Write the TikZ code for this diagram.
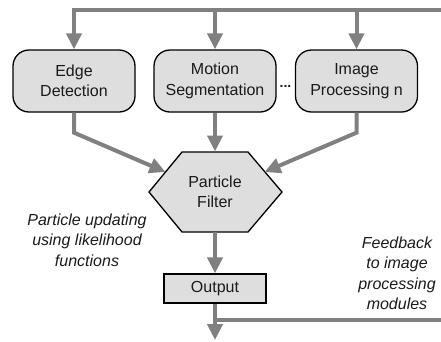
\documentclass[tikz,border=0pt]{standalone}
\usepackage{fontspec}
\setmainfont{Liberation Sans}
\usetikzlibrary{arrows.meta}
\definecolor{linegray}{HTML}{808080}
\definecolor{boxgray}{HTML}{DEDEDE}
\definecolor{txt}{HTML}{1A1A1A}
\begin{document}
\begin{tikzpicture}[x=1pt,y=-1pt,
  every node/.style={font=\fontsize{16}{20.5}\selectfont, align=center, inner sep=0pt, text=txt},
  module/.style={draw=black, line width=1.3pt, fill=boxgray, rounded corners=16pt, minimum width=122pt, minimum height=62pt},
  outbox/.style={draw=black, line width=1.3pt, fill=boxgray, minimum width=102pt, minimum height=29pt},
  hexshape/.style={draw=black, line width=1.3pt, fill=boxgray, line join=miter},
  flow/.style={draw=linegray, line width=4pt, -{Triangle[width=15pt,length=16pt]}},
  feed/.style={draw=linegray, line width=4pt},
  note/.style={font=\fontsize{16}{20.5}\selectfont\itshape}
]
\useasboundingbox (0,0) rectangle (441,341);

% modules
\node[module] (ed) at (74,81) {Edge\\Detection};
\node[module] (ms) at (215,81) {Motion\\Segmentation};
\node[module] (ip) at (356.5,81) {Image\\Processing n};
\node[font=\fontsize{14}{14}\selectfont\bfseries, anchor=base] (dots) at (285.5,87) {...};

% hexagon
\coordinate (hW) at (149,192);
\coordinate (hNW) at (182,152);
\coordinate (hNE) at (248,152);
\coordinate (hE) at (282,192);
\coordinate (hSE) at (248,232);
\coordinate (hSW) at (182,232);
\draw[hexshape] (hW) -- (hNW) -- (hNE) -- (hE) -- (hSE) -- (hSW) -- cycle;
\node (pf) at (215,192) {Particle\\Filter};
\coordinate (hN) at (215,151.5);
\coordinate (hS) at (215,232);
\coordinate (hL) at (165.5,172);
\coordinate (hR) at (264.5,172);

% output
\node[outbox] (out) at (215,288.5) {Output};
\coordinate (down) at (215,340);

% feedback lines
\coordinate (topR) at (441,10);
\coordinate (fbR) at (441,320);
\draw[flow] (topR) -| (ed.north);
\draw[flow] (ms.north |- topR) -- (ms.north);
\draw[flow] (ip.north |- topR) -- (ip.north);

% to particle filter
\draw[flow] (ed.south) -- ++(0,20) -- (hL);
\draw[flow] (ms.south) -- (hN);
\draw[flow] (ip.south) -- ++(0,20) -- (hR);

% output
\draw[flow] (hS) -- (out.north);
\draw[flow] (out.south) -- (down);
\draw[feed] (fbR) -- (fbR -| out.south);

% notes
\node[note] (n1) at (87,240) {Particle updating\\using likelihood\\functions};
\node[note] (n2) at (397,273.5) {Feedback\\to image\\processing\\modules};
\end{tikzpicture}
\end{document}
